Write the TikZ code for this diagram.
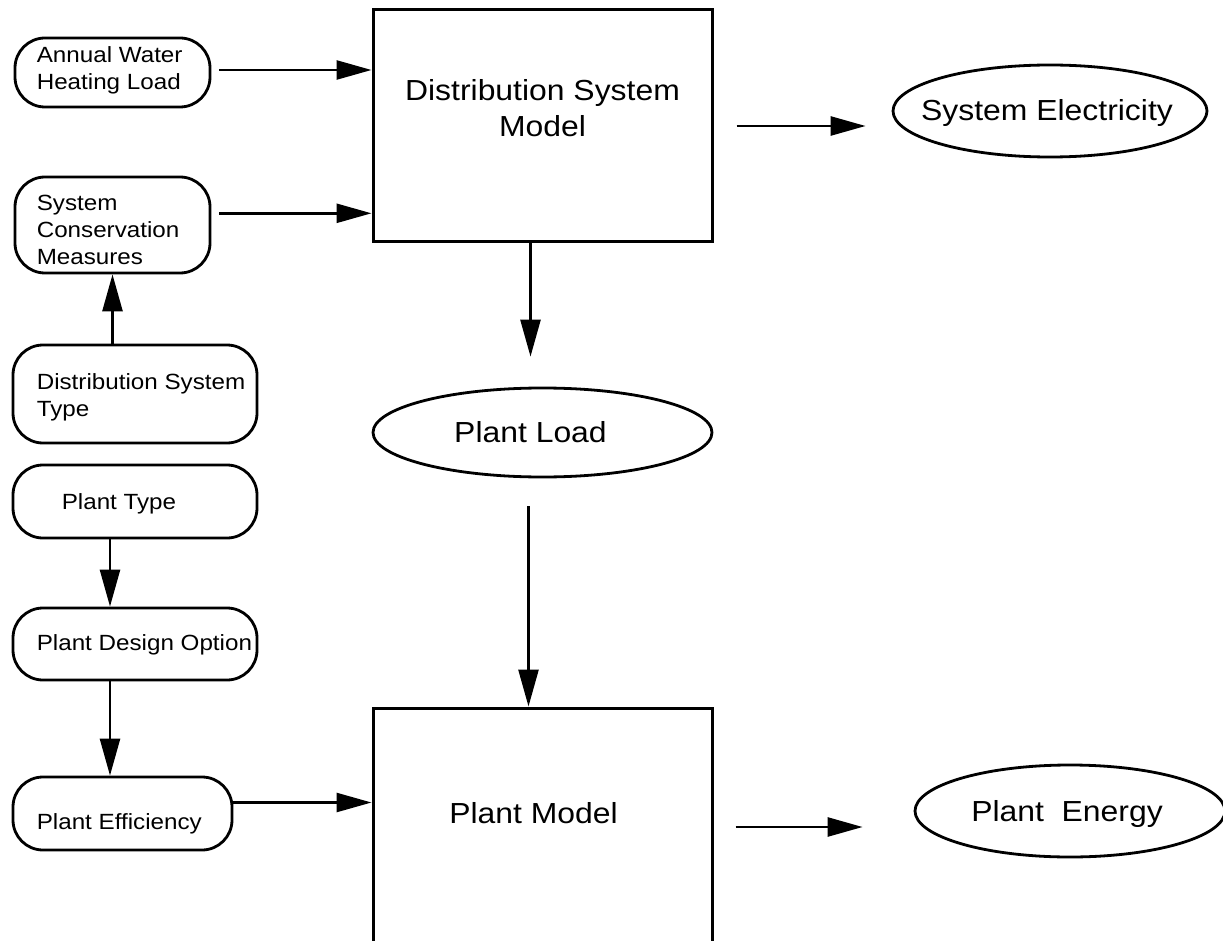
\documentclass[tikz,border=0pt]{standalone}
\usepackage{fontspec}
\setmainfont{Liberation Sans}[FakeStretch=1.1]
\usetikzlibrary{shapes.geometric,arrows.meta}
\begin{document}
\begin{tikzpicture}[x=1pt,y=-1pt,
  lbox/.style={draw, line width=2.8pt, rounded corners=30pt, inner sep=0pt},
  rbox/.style={draw, line width=3pt, inner sep=0pt},
  ebox/.style={draw, ellipse, line width=2.8pt, inner sep=0pt},
  txt/.style={anchor=west, align=left, inner sep=0pt, font=\fontsize{22}{27}\selectfont},
  big/.style={font=\fontsize{29}{36}\selectfont},
  harr/.style={line width=2.6pt, -{Triangle[length=35pt,width=19pt]}},
  varr/.style={line width=2.6pt, -{Triangle[length=37pt,width=20pt]}}]
\useasboundingbox (0,0) rectangle (1223,941);
% left column
\node[lbox, minimum width=195pt, minimum height=69pt,
  label={[txt, xshift=23pt, yshift=2pt]west:Annual Water\\Heating Load}] (awhl) at (112.5,72.5) {};
\node[lbox, minimum width=195pt, minimum height=96pt,
  label={[txt, xshift=23pt, yshift=-5pt]west:System\\Conservation\\Measures}] (scm) at (112.5,225) {};
\node[lbox, minimum width=244pt, minimum height=98pt,
  label={[txt, xshift=25pt, yshift=-3pt]west:Distribution System\\Type}] (dst) at (135,394) {};
\node[lbox, minimum width=244pt, minimum height=73pt,
  label={[txt, xshift=50pt, yshift=-2pt]west:Plant Type}] (pt) at (135,501.5) {};
\node[lbox, minimum width=244pt, minimum height=72pt,
  label={[txt, xshift=25pt, yshift=-1pt]west:Plant Design Option}] (pdo) at (135,644) {};
\node[lbox, minimum width=219pt, minimum height=73pt,
  label={[txt, xshift=25pt, yshift=-10pt]west:Plant Efficiency}] (peff) at (122.5,813.5) {};
% models
\node[rbox, minimum width=339pt, minimum height=232pt,
  label={[big, align=center, inner sep=0pt, yshift=18pt]center:Distribution System\\Model}] (dsm) at (542.5,126) {};
\node[rbox, minimum width=339pt, minimum height=238pt,
  label={[big, inner sep=0pt, xshift=-9pt, yshift=14pt]center:Plant Model}] (pm) at (542.5,827) {};
% ellipses
\node[ebox, minimum width=339pt, minimum height=89pt,
  label={[big, inner sep=0pt, xshift=-12pt]center:Plant Load}] (pl) at (542.5,432.5) {};
\node[ebox, minimum width=314pt, minimum height=92pt,
  label={[big, inner sep=0pt, xshift=-3pt, yshift=-2pt]center:System Electricity}] (se) at (1050,111) {};
\node[ebox, minimum width=310pt, minimum height=92pt,
  label={[big, inner sep=0pt, xshift=-3pt, yshift=-3pt]center:Plant\ \ Energy}] (pe) at (1070,811) {};
% connectors
\coordinate (a1) at ([xshift=8pt,yshift=2.5pt]awhl.east);
\draw[harr] (a1) -- (a1 -| dsm.west);
\coordinate (a2) at ([xshift=8pt,yshift=11.7pt]scm.east);
\draw[harr] (a2) -- (a2 -| dsm.west);
\draw[varr] (dst.north -| scm.south) -- (scm.south);
\coordinate (b1) at ([xshift=-25pt]pt.south);
\draw[varr] (b1) -- (b1 |- pdo.north);
\coordinate (b2) at ([xshift=-25pt]pdo.south);
\draw[varr] (b2) -- (b2 |- peff.north);
\coordinate (c1) at ([yshift=11pt]peff.east);
\draw[harr] (c1) -- (c1 -| pm.west);
\coordinate (d1) at ([xshift=-12pt]dsm.south);
\draw[varr, shorten >=30pt] (d1) -- (d1 |- pl.north);
\coordinate (d2) at ([xshift=-14pt]pl.south);
\draw[varr, shorten <=28pt] (d2) -- (d2 |- pm.north);
\draw[harr, shorten <=23pt, shorten >=26pt] (dsm.east) -- (dsm.east -| se.west);
\draw[harr, shorten <=22pt, shorten >=51pt] (pm.east) -- (pm.east -| pe.west);
\end{tikzpicture}
\end{document}
